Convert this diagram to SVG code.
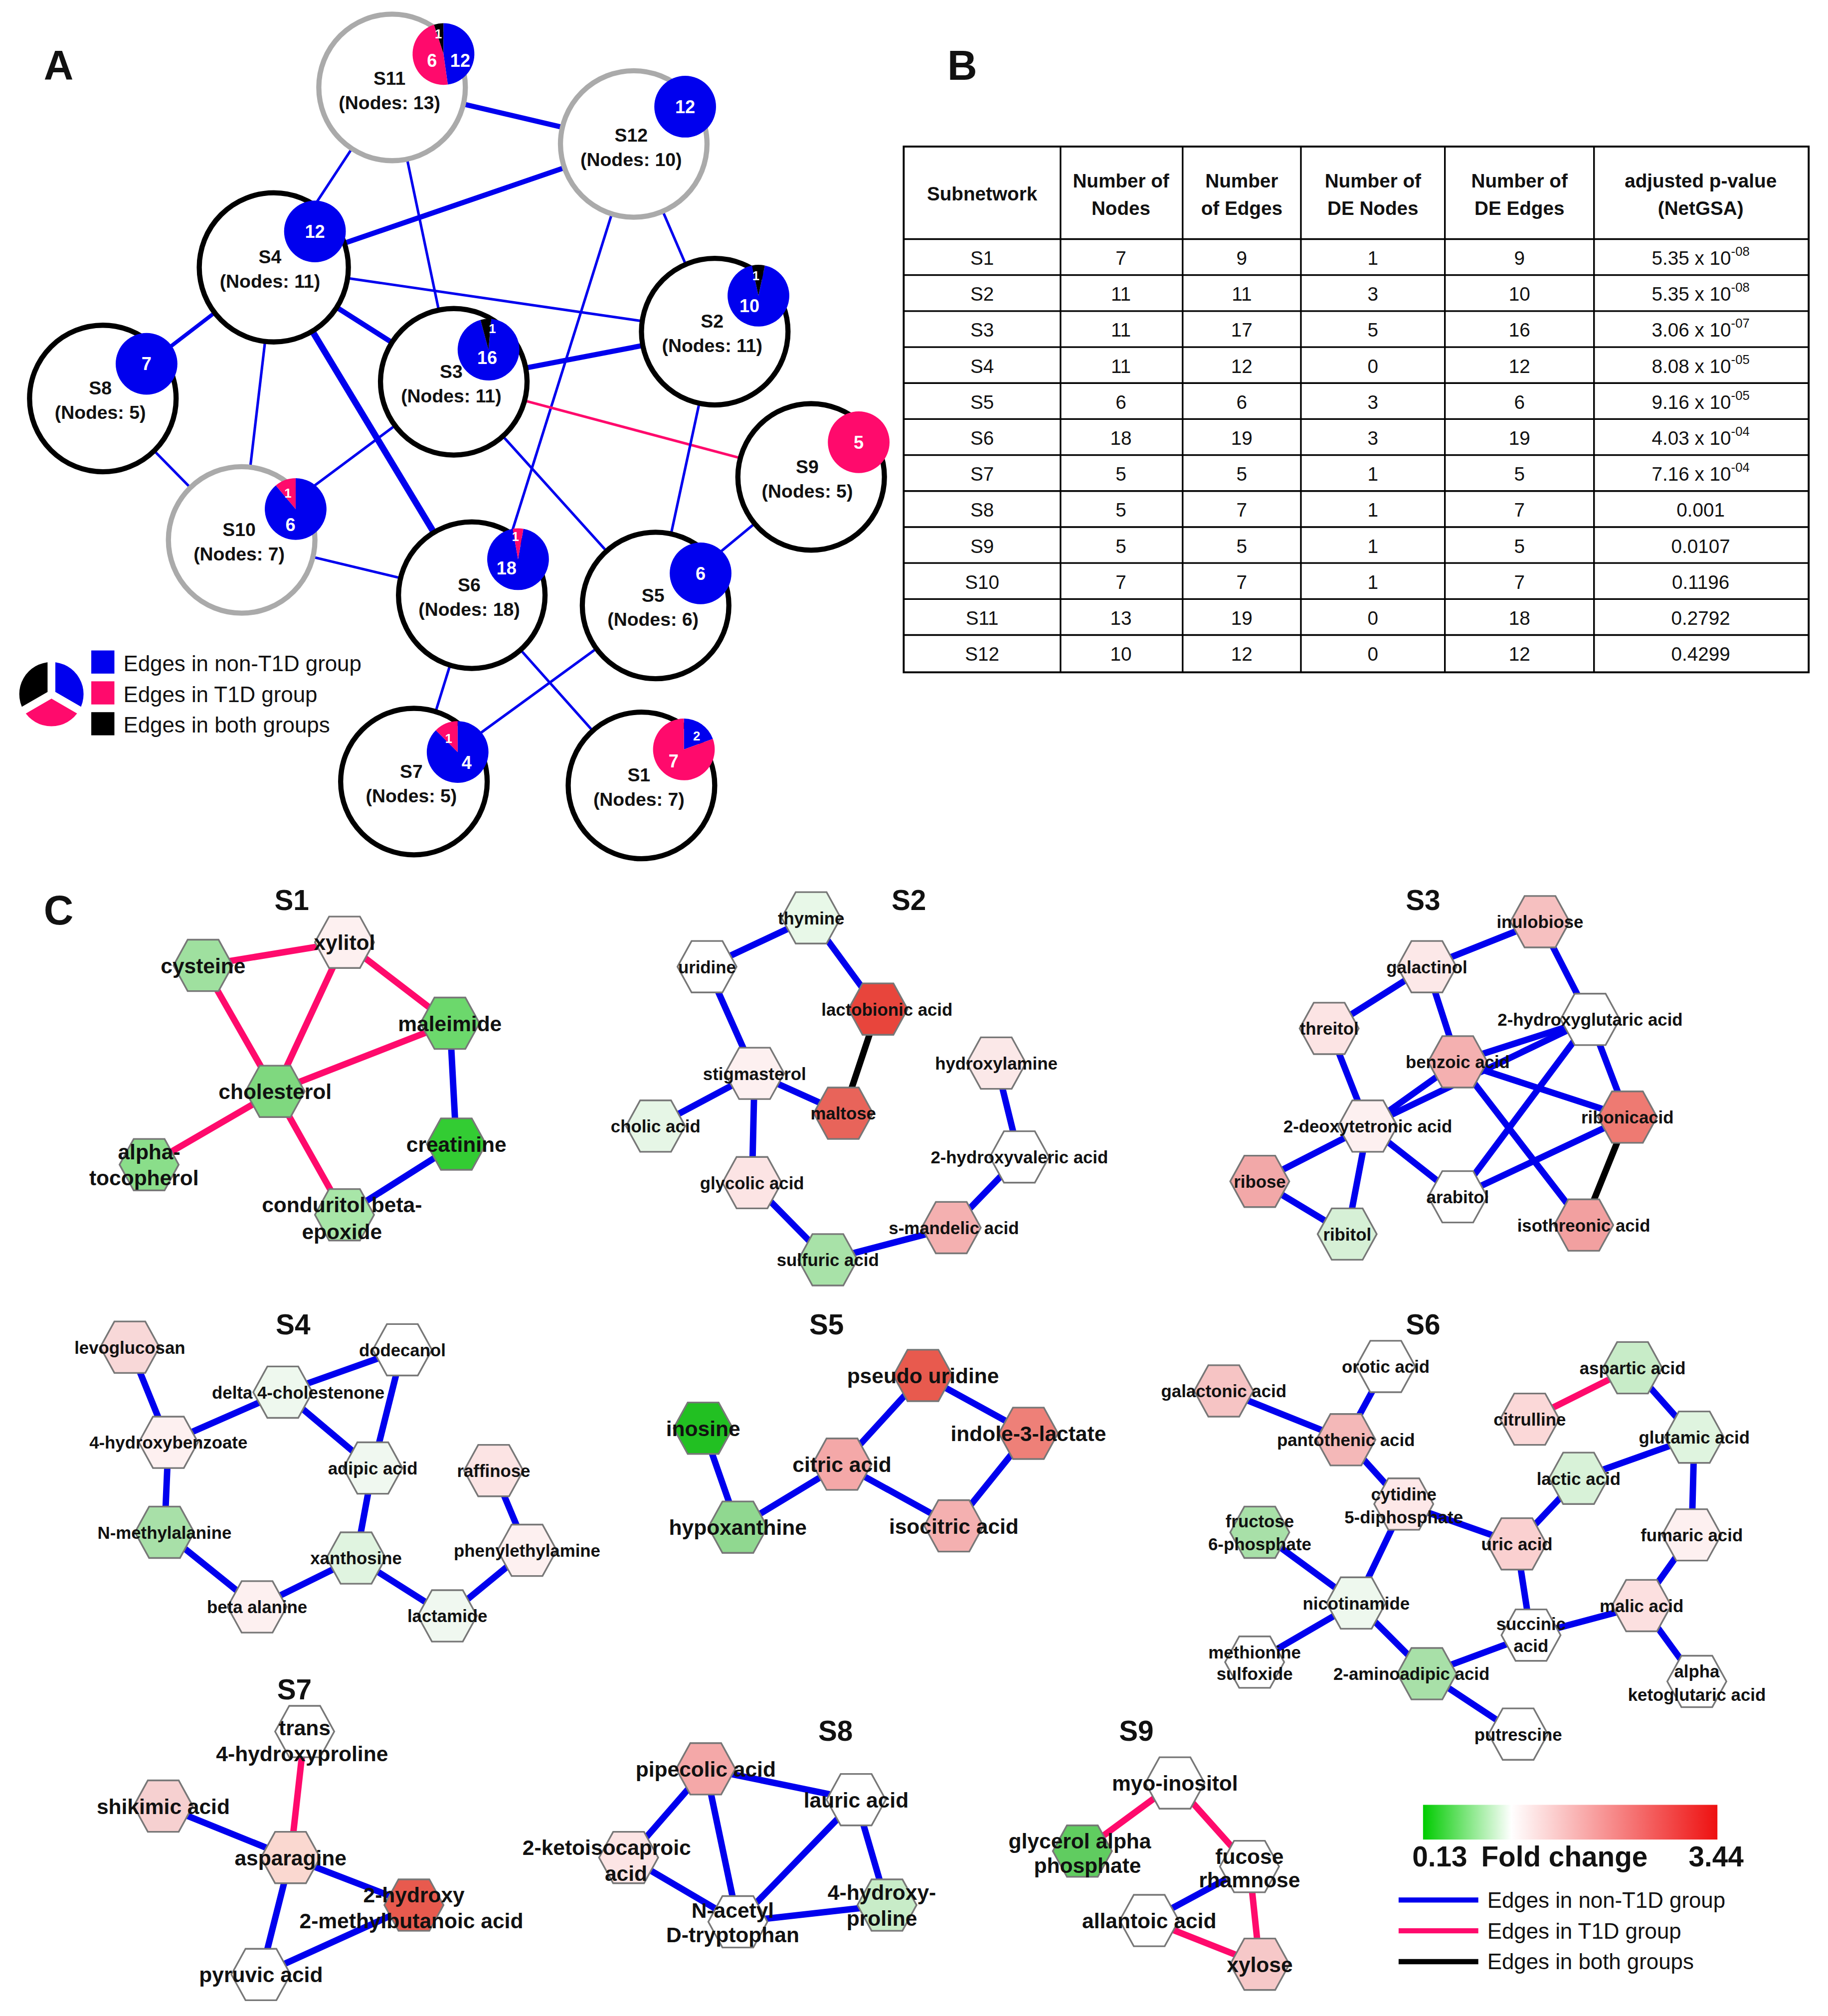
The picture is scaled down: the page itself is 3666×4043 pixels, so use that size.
<svg xmlns="http://www.w3.org/2000/svg" xmlns:xlink="http://www.w3.org/1999/xlink" width="3666" height="4043" viewBox="0 0 3666 4043">
<style>
text{font-family:"Liberation Sans",Arial,sans-serif;fill:#111;stroke:none}
.pl{font-size:32px;font-weight:bold}
.cn{font-size:14.5px;font-weight:bold;text-anchor:middle}
.pn{font-size:14px;font-weight:bold;fill:#fff;text-anchor:middle}
.ps{font-size:10px;font-weight:bold;fill:#fff;text-anchor:middle}
.cb{fill:#fff;stroke:#000;stroke-width:4}
.cg{fill:#fff;stroke:#aaa;stroke-width:4}
.eb{stroke:#0000ee;fill:none}
.er{stroke:#ff0a6c;fill:none}
.ek{stroke:#000;fill:none}
.th{font-size:15px;font-weight:bold;text-anchor:middle}
.td{font-size:15px;text-anchor:middle}
.tl{stroke:#000;stroke-width:1.3}
.nl{font-size:13.5px;font-weight:bold;text-anchor:middle}
.nb{font-size:16.5px;font-weight:bold;text-anchor:middle}
.tt{font-size:22px;font-weight:bold;text-anchor:middle}
.hx{stroke:#777;stroke-width:1.3}
.lg{font-size:17px}
</style>
<defs>
<path id="hx" d="M-23,0 L-12,-20 L12,-20 L23,0 L12,20 L-12,20 Z"/>
<linearGradient id="fc" x1="0" x2="1" y1="0" y2="0">
<stop offset="0" stop-color="#00cc00"/><stop offset="0.3" stop-color="#ffffff"/><stop offset="1" stop-color="#ee1111"/>
</linearGradient>
</defs>
<rect width="3666" height="4043" fill="#fff"/>
<g transform="scale(2.578)">
<text class="pl" x="34" y="62">A</text>
<text class="pl" x="737" y="62">B</text>
<text class="pl" x="34" y="719">C</text>

<g id="connectorsA">
<line class="eb" stroke-width="4" x1="305" y1="68" x2="493" y2="112"/>
<line class="eb" stroke-width="2" x1="305" y1="68" x2="213" y2="208"/>
<line class="eb" stroke-width="2" x1="305" y1="68" x2="353" y2="297"/>
<line class="eb" stroke-width="4" x1="493" y1="112" x2="213" y2="208"/>
<line class="eb" stroke-width="2" x1="493" y1="112" x2="556" y2="258"/>
<line class="eb" stroke-width="2" x1="493" y1="112" x2="390" y2="440"/>
<line class="eb" stroke-width="3" x1="213" y1="208" x2="80" y2="310"/>
<line class="eb" stroke-width="2" x1="213" y1="208" x2="556" y2="258"/>
<line class="eb" stroke-width="4" x1="213" y1="208" x2="353" y2="297"/>
<line class="eb" stroke-width="2" x1="213" y1="208" x2="188" y2="420"/>
<line class="eb" stroke-width="5" x1="213" y1="208" x2="367" y2="463"/>
<line class="eb" stroke-width="4" x1="353" y1="297" x2="556" y2="258"/>
<line class="eb" stroke-width="2" x1="353" y1="297" x2="188" y2="420"/>
<line class="er" stroke-width="2" x1="353" y1="297" x2="631" y2="371"/>
<line class="eb" stroke-width="2" x1="353" y1="297" x2="510" y2="471"/>
<line class="eb" stroke-width="2" x1="556" y1="258" x2="510" y2="471"/>
<line class="eb" stroke-width="2" x1="80" y1="310" x2="188" y2="420"/>
<line class="eb" stroke-width="2" x1="188" y1="420" x2="367" y2="463"/>
<line class="eb" stroke-width="2" x1="631" y1="371" x2="510" y2="471"/>
<line class="eb" stroke-width="2" x1="367" y1="463" x2="322" y2="608"/>
<line class="eb" stroke-width="2" x1="367" y1="463" x2="499" y2="611"/>
<line class="eb" stroke-width="2" x1="510" y1="471" x2="322" y2="608"/>
</g>

<g id="S11"><circle class="cg" cx="305" cy="68" r="57"/><text class="cn" x="303" y="66">S11</text><text class="cn" x="303" y="85">(Nodes: 13)</text>
<path d="M345,42 L337.58,19.17 A24,24 0 0 1 345,18 Z" fill="#000"/>
<path d="M345,42 L345,18 A24,24 0 0 1 348.34,65.77 Z" fill="#0000ee"/>
<path d="M345,42 L348.34,65.77 A24,24 0 0 1 337.58,19.17 Z" fill="#ff0a6c"/>
<text class="ps" x="341" y="30">1</text><text class="pn" x="336" y="52">6</text><text class="pn" x="358" y="52">12</text></g>
<g id="S12"><circle class="cg" cx="493" cy="112" r="57"/><text class="cn" x="491" y="110">S12</text><text class="cn" x="491" y="129">(Nodes: 10)</text>
<circle cx="533" cy="83" r="24" fill="#0000ee"/><text class="pn" x="533" y="88">12</text></g>
<g id="S4"><circle class="cb" cx="213" cy="208" r="58"/><text class="cn" x="210" y="205">S4</text><text class="cn" x="210" y="224">(Nodes: 11)</text>
<circle cx="245" cy="180" r="24" fill="#0000ee"/><text class="pn" x="245" y="185">12</text></g>
<g id="S2"><circle class="cb" cx="556" cy="258" r="57"/><text class="cn" x="554" y="255">S2</text><text class="cn" x="554" y="274">(Nodes: 11)</text>
<path d="M590,230 L594.99,206.52 A24,24 0 1 1 585.01,206.52 Z" fill="#0000ee"/>
<path d="M590,230 L585.01,206.52 A24,24 0 0 1 594.99,206.52 Z" fill="#000"/>
<text class="ps" x="588" y="218">1</text><text class="pn" x="583" y="243">10</text></g>
<g id="S8"><circle class="cb" cx="80" cy="310" r="57"/><text class="cn" x="78" y="307">S8</text><text class="cn" x="78" y="326">(Nodes: 5)</text>
<circle cx="114" cy="283" r="24" fill="#0000ee"/><text class="pn" x="114" y="288">7</text></g>
<g id="S3"><circle class="cb" cx="353" cy="297" r="57"/><text class="cn" x="351" y="294">S3</text><text class="cn" x="351" y="313">(Nodes: 11)</text>
<path d="M380,272 L382.09,248.09 A24,24 0 1 1 373.79,248.82 Z" fill="#0000ee"/>
<path d="M380,272 L373.79,248.82 A24,24 0 0 1 382.09,248.09 Z" fill="#000"/>
<text class="ps" x="383" y="259">1</text><text class="pn" x="379" y="283">16</text></g>
<g id="S9"><circle class="cb" cx="631" cy="371" r="57"/><text class="cn" x="628" y="368">S9</text><text class="cn" x="628" y="387">(Nodes: 5)</text>
<circle cx="668" cy="344" r="24" fill="#ff0a6c"/><text class="pn" x="668" y="349">5</text></g>
<g id="S10"><circle class="cg" cx="188" cy="420" r="57"/><text class="cn" x="186" y="417">S10</text><text class="cn" x="186" y="436">(Nodes: 7)</text>
<path d="M230,396 L230,372 A24,24 0 1 1 214.57,377.61 Z" fill="#0000ee"/>
<path d="M230,396 L214.57,377.61 A24,24 0 0 1 230,372 Z" fill="#ff0a6c"/>
<text class="ps" x="224" y="387">1</text><text class="pn" x="226" y="413">6</text></g>
<g id="S6"><circle class="cb" cx="367" cy="463" r="57"/><text class="cn" x="365" y="460">S6</text><text class="cn" x="365" y="479">(Nodes: 18)</text>
<path d="M403,435 L407.17,411.36 A24,24 0 1 1 398.83,411.36 Z" fill="#0000ee"/>
<path d="M403,435 L398.83,411.36 A24,24 0 0 1 407.17,411.36 Z" fill="#ff0a6c"/>
<text class="ps" x="401" y="421">1</text><text class="pn" x="394" y="447">18</text></g>
<g id="S5"><circle class="cb" cx="510" cy="471" r="57"/><text class="cn" x="508" y="468">S5</text><text class="cn" x="508" y="487">(Nodes: 6)</text>
<circle cx="545" cy="446" r="24" fill="#0000ee"/><text class="pn" x="545" y="451">6</text></g>
<g id="S7"><circle class="cb" cx="322" cy="608" r="57"/><text class="cn" x="320" y="605">S7</text><text class="cn" x="320" y="624">(Nodes: 5)</text>
<path d="M356,585 L356,561 A24,24 0 1 1 339.03,568.03 Z" fill="#0000ee"/>
<path d="M356,585 L339.03,568.03 A24,24 0 0 1 356,561 Z" fill="#ff0a6c"/>
<text class="ps" x="349" y="578">1</text><text class="pn" x="363" y="598">4</text></g>
<g id="S1"><circle class="cb" cx="499" cy="611" r="57"/><text class="cn" x="497" y="608">S1</text><text class="cn" x="497" y="627">(Nodes: 7)</text>
<path d="M532,583 L532,559 A24,24 0 0 1 554.55,574.79 Z" fill="#0000ee"/>
<path d="M532,583 L554.55,574.79 A24,24 0 1 1 532,559 Z" fill="#ff0a6c"/>
<text class="ps" x="542" y="576">2</text><text class="pn" x="524" y="597">7</text></g>

<g id="legendA">
<path d="M40,540 L40,512 A28,28 0 0 1 64.25,554 Z" fill="#0000ee" stroke="#fff" stroke-width="6"/>
<path d="M40,540 L64.25,554 A28,28 0 0 1 15.75,554 Z" fill="#ff0a6c" stroke="#fff" stroke-width="6"/>
<path d="M40,540 L15.75,554 A28,28 0 0 1 40,512 Z" fill="#000" stroke="#fff" stroke-width="6"/>
<rect x="71" y="506" width="18" height="18" fill="#0000ee"/><text class="lg" x="96" y="522">Edges in non-T1D group</text>
<rect x="71" y="530" width="18" height="18" fill="#ff0a6c"/><text class="lg" x="96" y="546">Edges in T1D group</text>
<rect x="71" y="554" width="18" height="18" fill="#000"/><text class="lg" x="96" y="570">Edges in both groups</text>
</g>

<g id="tableB">
<rect x="703" y="114" width="704" height="409" fill="#fff" stroke="#000" stroke-width="1.5"/>
<g class="tl">
<line x1="825" y1="114" x2="825" y2="523"/><line x1="920" y1="114" x2="920" y2="523"/><line x1="1012" y1="114" x2="1012" y2="523"/><line x1="1124" y1="114" x2="1124" y2="523"/><line x1="1240" y1="114" x2="1240" y2="523"/>
<line x1="703" y1="186" x2="1407" y2="186"/><line x1="703" y1="214" x2="1407" y2="214"/><line x1="703" y1="242" x2="1407" y2="242"/><line x1="703" y1="270" x2="1407" y2="270"/><line x1="703" y1="298" x2="1407" y2="298"/><line x1="703" y1="326" x2="1407" y2="326"/><line x1="703" y1="354" x2="1407" y2="354"/><line x1="703" y1="382" x2="1407" y2="382"/><line x1="703" y1="410" x2="1407" y2="410"/><line x1="703" y1="438" x2="1407" y2="438"/><line x1="703" y1="466" x2="1407" y2="466"/><line x1="703" y1="494" x2="1407" y2="494"/>
</g>
<text class="th" x="764" y="156">Subnetwork</text>
<text class="th" x="872" y="146">Number of</text><text class="th" x="872" y="167">Nodes</text>
<text class="th" x="966" y="146">Number</text><text class="th" x="966" y="167">of Edges</text>
<text class="th" x="1068" y="146">Number of</text><text class="th" x="1068" y="167">DE Nodes</text>
<text class="th" x="1182" y="146">Number of</text><text class="th" x="1182" y="167">DE Edges</text>
<text class="th" x="1323" y="146">adjusted p-value</text><text class="th" x="1323" y="167">(NetGSA)</text>
<g class="td">
<text x="764" y="206">S1</text><text x="872" y="206">7</text><text x="966" y="206">9</text><text x="1068" y="206">1</text><text x="1182" y="206">9</text><text x="1323" y="206">5.35 x 10<tspan font-size="10" dy="-7">-08</tspan></text>
<text x="764" y="234">S2</text><text x="872" y="234">11</text><text x="966" y="234">11</text><text x="1068" y="234">3</text><text x="1182" y="234">10</text><text x="1323" y="234">5.35 x 10<tspan font-size="10" dy="-7">-08</tspan></text>
<text x="764" y="262">S3</text><text x="872" y="262">11</text><text x="966" y="262">17</text><text x="1068" y="262">5</text><text x="1182" y="262">16</text><text x="1323" y="262">3.06 x 10<tspan font-size="10" dy="-7">-07</tspan></text>
<text x="764" y="290">S4</text><text x="872" y="290">11</text><text x="966" y="290">12</text><text x="1068" y="290">0</text><text x="1182" y="290">12</text><text x="1323" y="290">8.08 x 10<tspan font-size="10" dy="-7">-05</tspan></text>
<text x="764" y="318">S5</text><text x="872" y="318">6</text><text x="966" y="318">6</text><text x="1068" y="318">3</text><text x="1182" y="318">6</text><text x="1323" y="318">9.16 x 10<tspan font-size="10" dy="-7">-05</tspan></text>
<text x="764" y="346">S6</text><text x="872" y="346">18</text><text x="966" y="346">19</text><text x="1068" y="346">3</text><text x="1182" y="346">19</text><text x="1323" y="346">4.03 x 10<tspan font-size="10" dy="-7">-04</tspan></text>
<text x="764" y="374">S7</text><text x="872" y="374">5</text><text x="966" y="374">5</text><text x="1068" y="374">1</text><text x="1182" y="374">5</text><text x="1323" y="374">7.16 x 10<tspan font-size="10" dy="-7">-04</tspan></text>
<text x="764" y="402">S8</text><text x="872" y="402">5</text><text x="966" y="402">7</text><text x="1068" y="402">1</text><text x="1182" y="402">7</text><text x="1323" y="402">0.001</text>
<text x="764" y="430">S9</text><text x="872" y="430">5</text><text x="966" y="430">5</text><text x="1068" y="430">1</text><text x="1182" y="430">5</text><text x="1323" y="430">0.0107</text>
<text x="764" y="458">S10</text><text x="872" y="458">7</text><text x="966" y="458">7</text><text x="1068" y="458">1</text><text x="1182" y="458">7</text><text x="1323" y="458">0.1196</text>
<text x="764" y="486">S11</text><text x="872" y="486">13</text><text x="966" y="486">19</text><text x="1068" y="486">0</text><text x="1182" y="486">18</text><text x="1323" y="486">0.2792</text>
<text x="764" y="514">S12</text><text x="872" y="514">10</text><text x="966" y="514">12</text><text x="1068" y="514">0</text><text x="1182" y="514">12</text><text x="1323" y="514">0.4299</text>
</g>
</g>

<g id="connectorsC" stroke-width="5" stroke-linecap="round">
<line class="er" x1="158" y1="751" x2="268" y2="733"/><line class="er" x1="158" y1="751" x2="214" y2="849"/><line class="er" x1="268" y1="733" x2="214" y2="849"/><line class="er" x1="268" y1="733" x2="350" y2="796"/><line class="er" x1="350" y1="796" x2="214" y2="849"/><line class="eb" x1="350" y1="796" x2="355" y2="890"/><line class="er" x1="214" y1="849" x2="116" y2="906"/><line class="er" x1="214" y1="849" x2="268" y2="945"/><line class="eb" x1="355" y1="890" x2="268" y2="945"/>
<line class="eb" x1="550" y1="752" x2="631" y2="714"/><line class="eb" x1="631" y1="714" x2="683" y2="785"/><line class="ek" x1="683" y1="785" x2="656" y2="866"/><line class="eb" x1="550" y1="752" x2="587" y2="835"/><line class="eb" x1="587" y1="835" x2="656" y2="866"/><line class="eb" x1="587" y1="835" x2="510" y2="876"/><line class="eb" x1="587" y1="835" x2="585" y2="920"/><line class="eb" x1="585" y1="920" x2="644" y2="980"/><line class="eb" x1="644" y1="980" x2="740" y2="955"/><line class="eb" x1="740" y1="955" x2="793" y2="900"/><line class="eb" x1="775" y1="827" x2="793" y2="900"/>
<line class="eb" x1="1110" y1="752" x2="1198" y2="717"/><line class="eb" x1="1198" y1="717" x2="1237" y2="793"/><line class="eb" x1="1110" y1="752" x2="1034" y2="800"/><line class="eb" x1="1110" y1="752" x2="1134" y2="826"/><line class="eb" x1="1034" y1="800" x2="1064" y2="876"/><line class="eb" x1="1237" y1="793" x2="1134" y2="826"/><line class="eb" x1="1237" y1="793" x2="1266" y2="869"/><line class="eb" x1="1237" y1="793" x2="1134" y2="931"/><line class="eb" x1="1237" y1="793" x2="1064" y2="876"/><line class="eb" x1="1134" y1="826" x2="1266" y2="869"/><line class="eb" x1="1134" y1="826" x2="1064" y2="876"/><line class="eb" x1="1134" y1="826" x2="1232" y2="953"/><line class="ek" x1="1266" y1="869" x2="1232" y2="953"/><line class="eb" x1="1266" y1="869" x2="1134" y2="931"/><line class="eb" x1="1064" y1="876" x2="980" y2="919"/><line class="eb" x1="1064" y1="876" x2="1048" y2="960"/><line class="eb" x1="980" y1="919" x2="1048" y2="960"/><line class="eb" x1="1064" y1="876" x2="1134" y2="931"/>
<line class="eb" x1="101" y1="1048" x2="131" y2="1122"/><line class="eb" x1="220" y1="1083" x2="131" y2="1122"/><line class="eb" x1="220" y1="1083" x2="313" y2="1050"/><line class="eb" x1="220" y1="1083" x2="290" y2="1142"/><line class="eb" x1="313" y1="1050" x2="290" y2="1142"/><line class="eb" x1="131" y1="1122" x2="128" y2="1192"/><line class="eb" x1="290" y1="1142" x2="277" y2="1212"/><line class="eb" x1="128" y1="1192" x2="200" y2="1250"/><line class="eb" x1="200" y1="1250" x2="277" y2="1212"/><line class="eb" x1="277" y1="1212" x2="348" y2="1257"/><line class="eb" x1="348" y1="1257" x2="410" y2="1206"/><line class="eb" x1="384" y1="1144" x2="410" y2="1206"/>
<line class="eb" x1="655" y1="1139" x2="718" y2="1070"/><line class="eb" x1="718" y1="1070" x2="800" y2="1115"/><line class="eb" x1="800" y1="1115" x2="742" y2="1187"/><line class="eb" x1="655" y1="1139" x2="742" y2="1187"/><line class="eb" x1="655" y1="1139" x2="574" y2="1188"/><line class="eb" x1="547" y1="1111" x2="574" y2="1188"/>
<line class="eb" x1="952" y1="1082" x2="1047" y2="1120"/><line class="eb" x1="1078" y1="1063" x2="1047" y2="1120"/><line class="eb" x1="1047" y1="1120" x2="1092" y2="1170"/><line class="er" x1="1190" y1="1104" x2="1270" y2="1064"/><line class="eb" x1="1270" y1="1064" x2="1318" y2="1118"/><line class="eb" x1="1318" y1="1118" x2="1228" y2="1150"/><line class="eb" x1="1318" y1="1118" x2="1316" y2="1194"/><line class="eb" x1="1228" y1="1150" x2="1180" y2="1201"/><line class="eb" x1="1092" y1="1170" x2="1180" y2="1201"/><line class="eb" x1="1092" y1="1170" x2="1055" y2="1247"/><line class="eb" x1="980" y1="1192" x2="1055" y2="1247"/><line class="eb" x1="1180" y1="1201" x2="1191" y2="1272"/><line class="eb" x1="1055" y1="1247" x2="976" y2="1293"/><line class="eb" x1="1055" y1="1247" x2="1110" y2="1302"/><line class="eb" x1="1110" y1="1302" x2="1191" y2="1272"/><line class="eb" x1="1110" y1="1302" x2="1181" y2="1349"/><line class="eb" x1="1191" y1="1272" x2="1277" y2="1249"/><line class="eb" x1="1316" y1="1194" x2="1277" y2="1249"/><line class="eb" x1="1277" y1="1249" x2="1320" y2="1308"/>
<line class="er" x1="237" y1="1347" x2="226" y2="1445"/><line class="eb" x1="127" y1="1405" x2="226" y2="1445"/><line class="eb" x1="226" y1="1445" x2="322" y2="1482"/><line class="eb" x1="226" y1="1445" x2="203" y2="1536"/><line class="eb" x1="203" y1="1536" x2="322" y2="1482"/>
<line class="eb" x1="549" y1="1376" x2="666" y2="1400"/><line class="eb" x1="549" y1="1376" x2="489" y2="1445"/><line class="eb" x1="549" y1="1376" x2="574" y2="1495"/><line class="eb" x1="489" y1="1445" x2="574" y2="1495"/><line class="eb" x1="666" y1="1400" x2="574" y2="1495"/><line class="eb" x1="666" y1="1400" x2="690" y2="1482"/><line class="eb" x1="574" y1="1495" x2="690" y2="1482"/>
<line class="er" x1="914" y1="1387" x2="842" y2="1440"/><line class="er" x1="914" y1="1387" x2="972" y2="1452"/><line class="er" x1="972" y1="1452" x2="980" y2="1528"/><line class="er" x1="894" y1="1494" x2="980" y2="1528"/><line class="eb" x1="894" y1="1494" x2="972" y2="1452"/>
</g>

<g id="titlesC">
<text class="tt" x="227" y="708">S1</text><text class="tt" x="707" y="708">S2</text><text class="tt" x="1107" y="708">S3</text>
<text class="tt" x="228" y="1038">S4</text><text class="tt" x="643" y="1038">S5</text><text class="tt" x="1107" y="1038">S6</text>
<text class="tt" x="229" y="1322">S7</text><text class="tt" x="650" y="1354">S8</text><text class="tt" x="884" y="1354">S9</text>
</g>

<g id="s1nodes" class="hx">
<g id="cysteine"><use href="#hx" x="158" y="751" fill="#9fe09f"/><text class="nb" x="158" y="757">cysteine</text></g>
<g id="xylitol"><use href="#hx" x="268" y="733" fill="#fdf0f0"/><text class="nb" x="268" y="739">xylitol</text></g>
<g id="maleimide"><use href="#hx" x="350" y="796" fill="#6cd86c"/><text class="nb" x="350" y="802">maleimide</text></g>
<g id="cholesterol"><use href="#hx" x="214" y="849" fill="#7fd87f"/><text class="nb" x="214" y="855">cholesterol</text></g>
<g id="creatinine"><use href="#hx" x="355" y="890" fill="#33cc33"/><text class="nb" x="355" y="896">creatinine</text></g>
<g id="alphatoco"><use href="#hx" x="116" y="906" fill="#8ade8a"/><text class="nb" x="116" y="902">alpha-</text><text class="nb" x="112" y="922">tocopherol</text></g>
<g id="conduritol"><use href="#hx" x="268" y="945" fill="#a8e6a8"/><text class="nb" x="266" y="943">conduritol beta-</text><text class="nb" x="266" y="964">epoxide</text></g>
</g>

<g id="s2nodes" class="hx">
<g id="thymine"><use href="#hx" x="631" y="714" fill="#e8f8e8"/><text class="nl" x="631" y="719">thymine</text></g>
<g id="uridine"><use href="#hx" x="550" y="752" fill="#fff"/><text class="nl" x="550" y="757">uridine</text></g>
<g id="lactobionic"><use href="#hx" x="683" y="785" fill="#e8453c"/><text class="nl" x="690" y="790">lactobionic acid</text></g>
<g id="hydroxylamine"><use href="#hx" x="775" y="827" fill="#fbe8e8"/><text class="nl" x="775" y="832">hydroxylamine</text></g>
<g id="stigmasterol"><use href="#hx" x="587" y="835" fill="#fdf0f0"/><text class="nl" x="587" y="840">stigmasterol</text></g>
<g id="maltose"><use href="#hx" x="656" y="866" fill="#e8645a"/><text class="nl" x="656" y="871">maltose</text></g>
<g id="cholic"><use href="#hx" x="510" y="876" fill="#e6f6e6"/><text class="nl" x="510" y="881">cholic acid</text></g>
<g id="hvaleric"><use href="#hx" x="793" y="900" fill="#fff"/><text class="nl" x="793" y="905">2-hydroxyvaleric acid</text></g>
<g id="glycolic"><use href="#hx" x="585" y="920" fill="#fce4e4"/><text class="nl" x="585" y="925">glycolic acid</text></g>
<g id="smandelic"><use href="#hx" x="740" y="955" fill="#f4b0b0"/><text class="nl" x="742" y="960">s-mandelic acid</text></g>
<g id="sulfuric"><use href="#hx" x="644" y="980" fill="#a8e2a8"/><text class="nl" x="644" y="985">sulfuric acid</text></g>
</g>

<g id="s3nodes" class="hx">
<g id="inulobiose"><use href="#hx" x="1198" y="717" fill="#f6c0c0"/><text class="nl" x="1198" y="722">inulobiose</text></g>
<g id="galactinol"><use href="#hx" x="1110" y="752" fill="#fce8e8"/><text class="nl" x="1110" y="757">galactinol</text></g>
<g id="threitol"><use href="#hx" x="1034" y="800" fill="#fce4e4"/><text class="nl" x="1034" y="805">threitol</text></g>
<g id="hglutaric"><use href="#hx" x="1237" y="793" fill="#fff"/><text class="nl" x="1237" y="798">2-hydroxyglutaric acid</text></g>
<g id="benzoic"><use href="#hx" x="1134" y="826" fill="#f4b0b0"/><text class="nl" x="1134" y="831">benzoic acid</text></g>
<g id="ribonic"><use href="#hx" x="1266" y="869" fill="#ee7a72"/><text class="nl" x="1266" y="874">ribonicacid</text></g>
<g id="deoxytetronic"><use href="#hx" x="1064" y="876" fill="#fdf0f0"/><text class="nl" x="1064" y="881">2-deoxytetronic acid</text></g>
<g id="ribose"><use href="#hx" x="980" y="919" fill="#f2a8a8"/><text class="nl" x="980" y="924">ribose</text></g>
<g id="arabitol"><use href="#hx" x="1134" y="931" fill="#fff"/><text class="nl" x="1134" y="936">arabitol</text></g>
<g id="isothreonic"><use href="#hx" x="1232" y="953" fill="#f2a0a0"/><text class="nl" x="1232" y="958">isothreonic acid</text></g>
<g id="ribitol"><use href="#hx" x="1048" y="960" fill="#d6f0d6"/><text class="nl" x="1048" y="965">ribitol</text></g>
</g>

<g id="s4nodes" class="hx">
<g id="levoglucosan"><use href="#hx" x="101" y="1048" fill="#f8d8d8"/><text class="nl" x="101" y="1053">levoglucosan</text></g>
<g id="dodecanol"><use href="#hx" x="313" y="1050" fill="#fff"/><text class="nl" x="313" y="1055">dodecanol</text></g>
<g id="cholestenone"><use href="#hx" x="220" y="1083" fill="#eef8ee"/><text class="nl" x="232" y="1088">delta 4-cholestenone</text></g>
<g id="hbenzoate"><use href="#hx" x="131" y="1122" fill="#fdf0f0"/><text class="nl" x="131" y="1127">4-hydroxybenzoate</text></g>
<g id="adipic"><use href="#hx" x="290" y="1142" fill="#f0f8f0"/><text class="nl" x="290" y="1147">adipic acid</text></g>
<g id="raffinose"><use href="#hx" x="384" y="1144" fill="#fce4e4"/><text class="nl" x="384" y="1149">raffinose</text></g>
<g id="nmethylalanine"><use href="#hx" x="128" y="1192" fill="#a8e0a8"/><text class="nl" x="128" y="1197">N-methylalanine</text></g>
<g id="xanthosine"><use href="#hx" x="277" y="1212" fill="#e0f4e0"/><text class="nl" x="277" y="1217">xanthosine</text></g>
<g id="phenylethylamine"><use href="#hx" x="410" y="1206" fill="#fdf0f0"/><text class="nl" x="410" y="1211">phenylethylamine</text></g>
<g id="betaalanine"><use href="#hx" x="200" y="1250" fill="#fdf0f0"/><text class="nl" x="200" y="1255">beta alanine</text></g>
<g id="lactamide"><use href="#hx" x="348" y="1257" fill="#f0f8f0"/><text class="nl" x="348" y="1262">lactamide</text></g>
</g>

<g id="s5nodes" class="hx">
<g id="pseudouridine"><use href="#hx" x="718" y="1070" fill="#e85a4e"/><text class="nb" x="718" y="1076">pseudo uridine</text></g>
<g id="inosine"><use href="#hx" x="547" y="1111" fill="#22c022"/><text class="nb" x="547" y="1117">inosine</text></g>
<g id="indole"><use href="#hx" x="800" y="1115" fill="#ee8078"/><text class="nb" x="800" y="1121">indole-3-lactate</text></g>
<g id="citric"><use href="#hx" x="655" y="1139" fill="#f4a8a8"/><text class="nb" x="655" y="1145">citric acid</text></g>
<g id="hypoxanthine"><use href="#hx" x="574" y="1188" fill="#90d890"/><text class="nb" x="574" y="1194">hypoxanthine</text></g>
<g id="isocitric"><use href="#hx" x="742" y="1187" fill="#f4b0b0"/><text class="nb" x="742" y="1193">isocitric acid</text></g>
</g>

<g id="s6nodes" class="hx">
<g id="orotic"><use href="#hx" x="1078" y="1063" fill="#fff"/><text class="nl" x="1078" y="1068">orotic acid</text></g>
<g id="aspartic"><use href="#hx" x="1270" y="1064" fill="#c8ecc8"/><text class="nl" x="1270" y="1069">aspartic acid</text></g>
<g id="galactonic"><use href="#hx" x="952" y="1082" fill="#f6c4c4"/><text class="nl" x="952" y="1087">galactonic acid</text></g>
<g id="citrulline"><use href="#hx" x="1190" y="1104" fill="#fbd8d8"/><text class="nl" x="1190" y="1109">citrulline</text></g>
<g id="pantothenic"><use href="#hx" x="1047" y="1120" fill="#f4b8b8"/><text class="nl" x="1047" y="1125">pantothenic acid</text></g>
<g id="glutamic"><use href="#hx" x="1318" y="1118" fill="#dff4df"/><text class="nl" x="1318" y="1123">glutamic acid</text></g>
<g id="lactic"><use href="#hx" x="1228" y="1150" fill="#d8f2d8"/><text class="nl" x="1228" y="1155">lactic acid</text></g>
<g id="cytidine"><use href="#hx" x="1092" y="1170" fill="#fde8e8"/><text class="nl" x="1092" y="1167">cytidine</text><text class="nl" x="1092" y="1185">5-diphosphate</text></g>
<g id="fructose"><use href="#hx" x="980" y="1192" fill="#a8e0a8"/><text class="nl" x="980" y="1188">fructose</text><text class="nl" x="980" y="1206">6-phosphate</text></g>
<g id="uric"><use href="#hx" x="1180" y="1201" fill="#fad0d0"/><text class="nl" x="1180" y="1206">uric acid</text></g>
<g id="fumaric"><use href="#hx" x="1316" y="1194" fill="#fdf0f0"/><text class="nl" x="1316" y="1199">fumaric acid</text></g>
<g id="nicotinamide"><use href="#hx" x="1055" y="1247" fill="#eef8ee"/><text class="nl" x="1055" y="1252">nicotinamide</text></g>
<g id="malic"><use href="#hx" x="1277" y="1249" fill="#fce0e0"/><text class="nl" x="1277" y="1254">malic acid</text></g>
<g id="succinic"><use href="#hx" x="1191" y="1272" fill="#fff"/><text class="nl" x="1191" y="1268">succinic</text><text class="nl" x="1191" y="1285">acid</text></g>
<g id="methionine"><use href="#hx" x="976" y="1293" fill="#fff"/><text class="nl" x="976" y="1290">methionine</text><text class="nl" x="976" y="1307">sulfoxide</text></g>
<g id="aminoadipic"><use href="#hx" x="1110" y="1302" fill="#a8e0a8"/><text class="nl" x="1098" y="1307">2-aminoadipic acid</text></g>
<g id="akg"><use href="#hx" x="1320" y="1308" fill="#fff"/><text class="nl" x="1320" y="1305">alpha</text><text class="nl" x="1320" y="1323">ketoglutaric acid</text></g>
<g id="putrescine"><use href="#hx" x="1181" y="1349" fill="#fff"/><text class="nl" x="1181" y="1354">putrescine</text></g>
</g>

<g id="s7nodes" class="hx">
<g id="trans"><use href="#hx" x="237" y="1347" fill="#fff"/><text class="nb" x="237" y="1350">trans</text><text class="nb" x="235" y="1370">4-hydroxyproline</text></g>
<g id="shikimic"><use href="#hx" x="127" y="1405" fill="#f6d0d0"/><text class="nb" x="127" y="1411">shikimic acid</text></g>
<g id="asparagine"><use href="#hx" x="226" y="1445" fill="#fad8d0"/><text class="nb" x="226" y="1451">asparagine</text></g>
<g id="hmba"><use href="#hx" x="322" y="1482" fill="#e85a4e"/><text class="nb" x="322" y="1480">2-hydroxy</text><text class="nb" x="320" y="1500">2-methylbutanoic acid</text></g>
<g id="pyruvic"><use href="#hx" x="203" y="1536" fill="#fff"/><text class="nb" x="203" y="1542">pyruvic acid</text></g>
</g>

<g id="s8nodes" class="hx">
<g id="pipecolic"><use href="#hx" x="549" y="1376" fill="#f4a8a8"/><text class="nb" x="549" y="1382">pipecolic acid</text></g>
<g id="lauric"><use href="#hx" x="666" y="1400" fill="#fff"/><text class="nb" x="666" y="1406">lauric acid</text></g>
<g id="ketoisocaproic"><use href="#hx" x="489" y="1445" fill="#fce4e4"/><text class="nb" x="472" y="1443">2-ketoisocaproic</text><text class="nb" x="487" y="1463">acid</text></g>
<g id="hydroxyproline"><use href="#hx" x="690" y="1482" fill="#c8ecc8"/><text class="nb" x="686" y="1478">4-hydroxy-</text><text class="nb" x="686" y="1498">proline</text></g>
<g id="nacetyl"><use href="#hx" x="574" y="1495" fill="#fff"/><text class="nb" x="570" y="1492">N-acetyl</text><text class="nb" x="570" y="1511">D-tryptophan</text></g>
</g>

<g id="s9nodes" class="hx">
<g id="myoinositol"><use href="#hx" x="914" y="1387" fill="#fff"/><text class="nb" x="914" y="1393">myo-inositol</text></g>
<g id="glycerolap"><use href="#hx" x="842" y="1440" fill="#60cc60"/><text class="nb" x="840" y="1438">glycerol alpha</text><text class="nb" x="846" y="1457">phosphate</text></g>
<g id="fucose"><use href="#hx" x="972" y="1452" fill="#fff"/><text class="nb" x="972" y="1450">fucose</text><text class="nb" x="972" y="1468">rhamnose</text></g>
<g id="allantoic"><use href="#hx" x="894" y="1494" fill="#fff"/><text class="nb" x="894" y="1500">allantoic acid</text></g>
<g id="xylose"><use href="#hx" x="980" y="1528" fill="#f6c8c8"/><text class="nb" x="980" y="1534">xylose</text></g>
</g>

<g id="legendC">
<rect x="1107" y="1404" width="229" height="27" fill="url(#fc)"/>
<text class="tt" x="1120" y="1452" font-size="19">0.13</text>
<text class="tt" x="1217" y="1452" font-size="19">Fold change</text>
<text class="tt" x="1335" y="1452" font-size="19">3.44</text>
<line class="eb" stroke-width="4" x1="1088" y1="1478" x2="1150" y2="1478"/><text class="lg" x="1157" y="1484">Edges in non-T1D group</text>
<line class="er" stroke-width="4" x1="1088" y1="1502" x2="1150" y2="1502"/><text class="lg" x="1157" y="1508">Edges in T1D group</text>
<line class="ek" stroke-width="4" x1="1088" y1="1526" x2="1150" y2="1526"/><text class="lg" x="1157" y="1532">Edges in both groups</text>
</g>
</g>
</svg>
